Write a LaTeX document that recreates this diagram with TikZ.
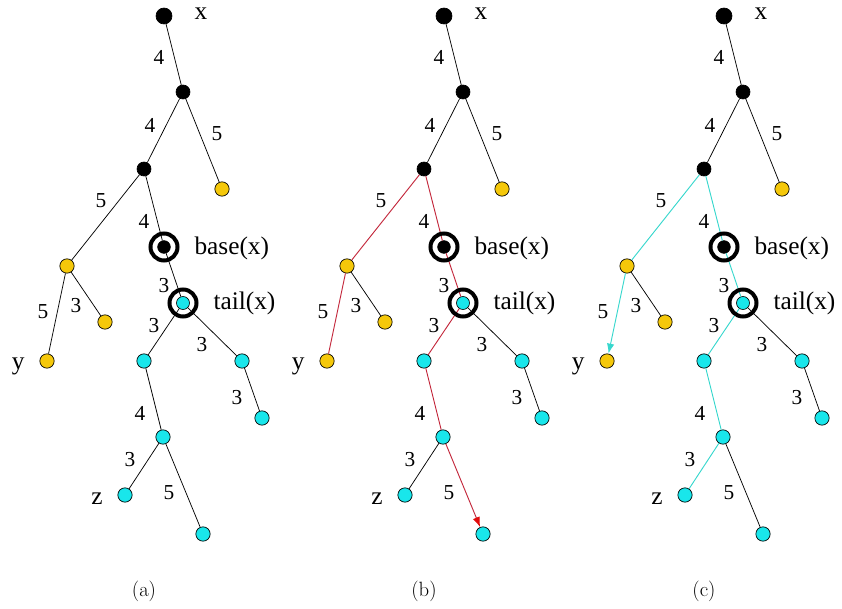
\documentclass[tikz,border=0pt]{standalone}
\usepackage{fontspec}
\newfontfamily\timesfont{Liberation Serif}
\usetikzlibrary{arrows.meta}

\definecolor{nodeyellow}{RGB}{245,200,10}
\definecolor{nodecyan}{RGB}{25,230,235}
\definecolor{pathred}{RGB}{195,40,60}
\definecolor{tipred}{RGB}{225,10,10}
\definecolor{pathcyan}{RGB}{55,215,205}

\tikzset{every picture/.style={line width=0.75pt}}
\tikzset{
  blacknode/.style={circle,draw=black,fill=black,line width=0.5pt,inner sep=0pt,minimum size=10.5pt},
  yellownode/.style={circle,draw=black,fill=nodeyellow,line width=0.5pt,inner sep=0pt,minimum size=10.75pt},
  cyannode/.style={circle,draw=black,fill=nodecyan,line width=0.5pt,inner sep=0pt,minimum size=10.75pt},
  ring/.style={line width=3pt},
  treeedge/.style={line width=0.55pt},
  redpath/.style={pathred,line width=0.7pt},
  cyanpath/.style={pathcyan,line width=0.7pt},
  weight/.style={inner sep=0.75pt,font=\timesfont\fontsize{16}{16}\selectfont},
  vertexlabel/.style={inner sep=0.75pt,font=\timesfont\fontsize{19}{19}\selectfont},
  caption/.style={inner sep=0.75pt,font=\fontsize{15.5}{15.5}\selectfont}
}
% which edges of each tree are on the path
\tikzset{
  commona/.style={}, toya/.style={}, toza/.style={}, tobota/.style={},
  commonb/.style={redpath}, toyb/.style={redpath}, tozb/.style={},
  tobotb/.style={redpath,-{Latex[length=7.5pt,width=5.5pt,color=tipred]}},
  commonc/.style={cyanpath}, toyc/.style={cyanpath,-{Latex[length=7.5pt,width=5.5pt]}},
  tozc/.style={cyanpath}, tobotc/.style={}
}

% one tree, #1 = name suffix, #2 = x offset
\newcommand{\drawtree}[2]{%
  \begin{scope}[shift={(#2,0)}]
    %Shape: Circles
    \node [blacknode,minimum size=12pt] (root#1) at (164,16) {};
    \node [blacknode] (nA#1) at (183,92) {};
    \node [blacknode] (nB#1) at (144,169) {};
    \node [yellownode] (yR#1) at (222,189) {};
    \node [blacknode,minimum size=9.5pt] (base#1) at (164,247) {};
    \node [yellownode] (yL#1) at (67,266) {};
    \node [cyannode,minimum size=9.75pt] (tail#1) at (183,303) {};
    \node [yellownode] (yS#1) at (105,322) {};
    \node [yellownode] (y#1) at (47,361) {};
    \node [cyannode] (cL#1) at (144,361) {};
    \node [cyannode] (cR#1) at (242,361) {};
    \node [cyannode] (cRB#1) at (262,418) {};
    \node [cyannode] (cM#1) at (163,437) {};
    \node [cyannode] (z#1) at (125,495) {};
    \node [cyannode] (cB#1) at (203,534) {};
    %Straight Lines
    \draw [treeedge] (root#1) -- (nA#1) (nA#1) -- (nB#1) (nA#1) -- (yR#1)
      (yL#1) -- (yS#1) (tail#1) -- (cR#1) (cR#1) -- (cRB#1) ;
    \draw [treeedge,common#1] (nB#1) -- (yL#1) (nB#1) -- (base#1) (base#1) -- (tail#1)
      (tail#1) -- (cL#1) (cL#1) -- (cM#1) ;
    \draw [treeedge,toy#1] (yL#1) -- (y#1) ;
    \draw [treeedge,toz#1] (cM#1) -- (z#1) ;
    \draw [treeedge,tobot#1] (cM#1) -- (cB#1) ;
    %Shape: Rings
    \draw [ring] (base#1) circle (13.5) ;
    \draw [ring] (tail#1) circle (13.5) ;
    % Text Node
    \node [vertexlabel,anchor=west] (xlab#1) at (193,14) {x};
    \node [vertexlabel,anchor=west] (baselab#1) at (193,248) {base(x)};
    \node [vertexlabel,anchor=west] (taillab#1) at (212,303) {tail(x)};
    \node [vertexlabel,anchor=east] (ylab#1) at (26,366) {y};
    \node [vertexlabel,anchor=east] (zlab#1) at (104,499) {z};
    % Text Node
    \node [weight] (w1#1) at (159,57) {4};
    \node [weight] (w2#1) at (150,125) {4};
    \node [weight] (w3#1) at (217,134) {5};
    \node [weight] (w4#1) at (101,201) {5};
    \node [weight] (w5#1) at (144,221) {4};
    \node [weight] (w6#1) at (164,286) {3};
    \node [weight] (w7#1) at (43,312) {5};
    \node [weight] (w8#1) at (76,306) {3};
    \node [weight] (w9#1) at (154,326) {3};
    \node [weight] (w10#1) at (202,345) {3};
    \node [weight] (w11#1) at (237,398) {3};
    \node [weight] (w12#1) at (140,413) {4};
    \node [weight] (w13#1) at (130,460) {3};
    \node [weight] (w14#1) at (169,493) {5};
    % Text Node
    \node [caption] (cap#1) at (144,591) {(#1)};
  \end{scope}%
}

\begin{document}
\begin{tikzpicture}[x=0.75pt,y=0.75pt,yscale=-1,xscale=1]
\useasboundingbox (0,0) rectangle (842,609);

\drawtree{a}{0}
\drawtree{b}{280}
\drawtree{c}{560}

\end{tikzpicture}
\end{document}
